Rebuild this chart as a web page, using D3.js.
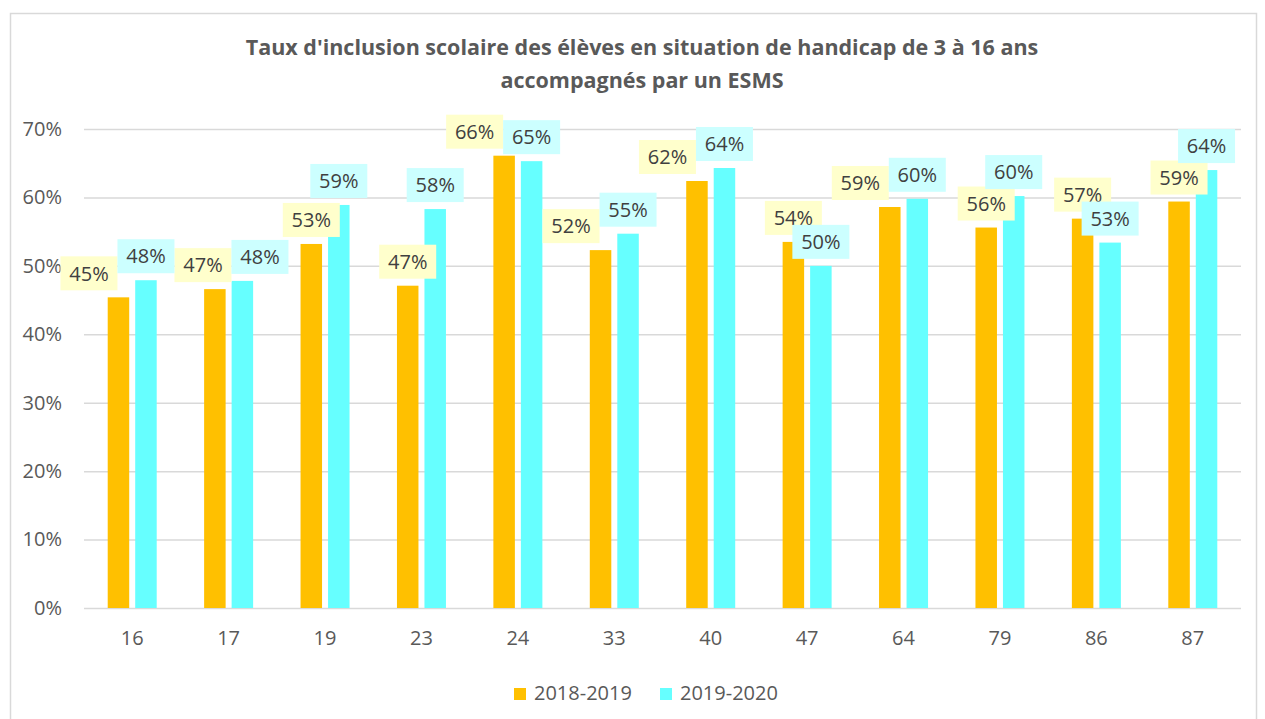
<!DOCTYPE html>
<html>
<head>
<meta charset="utf-8">
<script src="https://cdn.jsdelivr.net/npm/d3@7"></script>
<style>
body { margin: 0; background: #fff; }
text { font-family: "Open Sans", sans-serif; }
</style>
</head>
<body>
<div id="chart"></div>
<script>
// donnees
const departements = ["16", "17", "19", "23", "24", "33", "40", "47", "64", "79", "86", "87"];
const serie2018 = [0.454, 0.466, 0.532, 0.471, 0.661, 0.523, 0.624, 0.535, 0.586, 0.556, 0.569, 0.594];
const serie2019 = [0.479, 0.478, 0.589, 0.583, 0.653, 0.547, 0.643, 0.500, 0.598, 0.602, 0.534, 0.640];
const seriesNames = ["2018-2019", "2019-2020"];
const yTicks = [0, 0.1, 0.2, 0.3, 0.4, 0.5, 0.6, 0.7];
const titleLines = ["Taux d'inclusion scolaire des élèves en situation de handicap de 3 à 16 ans", "accompagnés par un ESMS"];

const colors = ["#FFC000", "#66FFFF"];
const labelFill = ["#FFFFCC", "#CCFFFF"];

var W = 1265, H = 719;
var plot = { left: 84, right: 1241, top: 129, bottom: 608 };

var svg = d3.select('#chart').append('svg')
	.attr('width', W)
	.attr('height', H);

// cadre du graphique
svg.append('rect')
	.attr('x', 10.5).attr('y', 13.5)
	.attr('width', 1246).attr('height', 730)
	.attr('fill', '#fff')
	.attr('stroke', '#d9d9d9').attr('stroke-width', 1.5);

var x = d3.scaleBand().domain(departements).range([plot.left, plot.right]);
var y = d3.scaleLinear().domain([0, 0.7]).range([plot.bottom, plot.top]);
var barW = 21.5, gap = 6;
var xSub = d3.scaleBand().domain(seriesNames)
	.range([0, 2 * barW + gap])
	.paddingInner(gap / (barW + gap));
var groupOffset = (x.bandwidth() - (2 * barW + gap)) / 2;

// grille + axe y
var yAxis = svg.append('g')
	.attr('transform', 'translate(' + plot.left + ',0)')
	.call(d3.axisLeft(y).tickValues(yTicks).tickFormat(d3.format('.0%'))
		.tickSize(-(plot.right - plot.left)).tickPadding(22));
yAxis.select('.domain').remove();
yAxis.selectAll('line').attr('stroke', '#d9d9d9').attr('stroke-width', 1.5);
yAxis.selectAll('text').attr('fill', '#595959').style('font-size', '20px');

// axe x
var xAxis = svg.append('g')
	.attr('transform', 'translate(0,' + plot.bottom + ')')
	.call(d3.axisBottom(x).tickSize(0).tickPadding(23));
xAxis.select('.domain').remove();
xAxis.selectAll('text').attr('fill', '#595959').style('font-size', '20px');

var series = [serie2018, serie2019];

// barres
series.forEach(function(vals, s) {
	svg.append('g').selectAll('rect')
		.data(vals)
		.enter().append('rect')
		.attr('x', function(d, i) { return x(departements[i]) + groupOffset + xSub(seriesNames[s]); })
		.attr('y', function(d) { return y(d); })
		.attr('width', xSub.bandwidth())
		.attr('height', function(d) { return y(0) - y(d); })
		.attr('fill', colors[s]);
});

// etiquettes : centrees au-dessus de la barre, ecartees si elles se chevauchent
var boxW = 57, boxH = 34, lift = 7;
var labels = [];
var prevCyan = null;
departements.forEach(function(dep, i) {
	var pair = series.map(function(vals, s) {
		var cx = x(dep) + groupOffset + xSub(seriesNames[s]) + xSub.bandwidth() / 2;
		return { s: s, v: vals[i], cx: cx, bottom: y(vals[i]) - lift };
	});
	if (Math.abs(pair[0].bottom - pair[1].bottom) < 20) {
		var need = boxW - (pair[1].cx - pair[0].cx);
		var room = need;
		// ne pas empieter sur l'etiquette du groupe precedent
		if (prevCyan && Math.abs(prevCyan.bottom - pair[0].bottom) < boxH) {
			room = Math.max(0, (pair[0].cx - boxW / 2) - (prevCyan.cx + boxW / 2));
		}
		var left = Math.min(need, room);
		pair[0].cx -= left;
		pair[1].cx += need - left;
	}
	prevCyan = pair[1];
	labels.push(pair[0], pair[1]);
});
labels.sort(function(a, b) { return a.s - b.s; });

var fmt = d3.format('.0%');
var lab = svg.append('g').selectAll('g')
	.data(labels)
	.enter().append('g')
	.attr('transform', function(d) { return 'translate(' + d.cx + ',' + (d.bottom - boxH / 2) + ')'; });
lab.append('rect')
	.attr('x', -boxW / 2).attr('y', -boxH / 2)
	.attr('width', boxW).attr('height', boxH)
	.attr('fill', function(d) { return labelFill[d.s]; });
lab.append('text')
	.attr('text-anchor', 'middle')
	.attr('dy', '0.36em')
	.attr('fill', '#404040')
	.style('font-size', '20px')
	.text(function(d) { return fmt(d.v); });

// titre
svg.append('g').selectAll('text')
	.data(titleLines)
	.enter().append('text')
	.attr('x', 642)
	.attr('y', function(d, i) { return 55 + i * 33; })
	.attr('text-anchor', 'middle')
	.attr('fill', '#595959')
	.style('font-size', '21.5px')
	.style('font-weight', 'bold')
	.text(function(d) { return d; });

// legende
var legX = [514, 660];
var leg = svg.append('g').selectAll('g')
	.data(seriesNames)
	.enter().append('g')
	.attr('transform', function(d, i) { return 'translate(' + legX[i] + ',688)'; });
leg.append('rect')
	.attr('width', 12).attr('height', 12)
	.attr('fill', function(d, i) { return colors[i]; });
leg.append('text')
	.attr('x', 20).attr('y', 12)
	.attr('fill', '#595959')
	.style('font-size', '20px')
	.text(function(d) { return d; });
</script>
</body>
</html>
